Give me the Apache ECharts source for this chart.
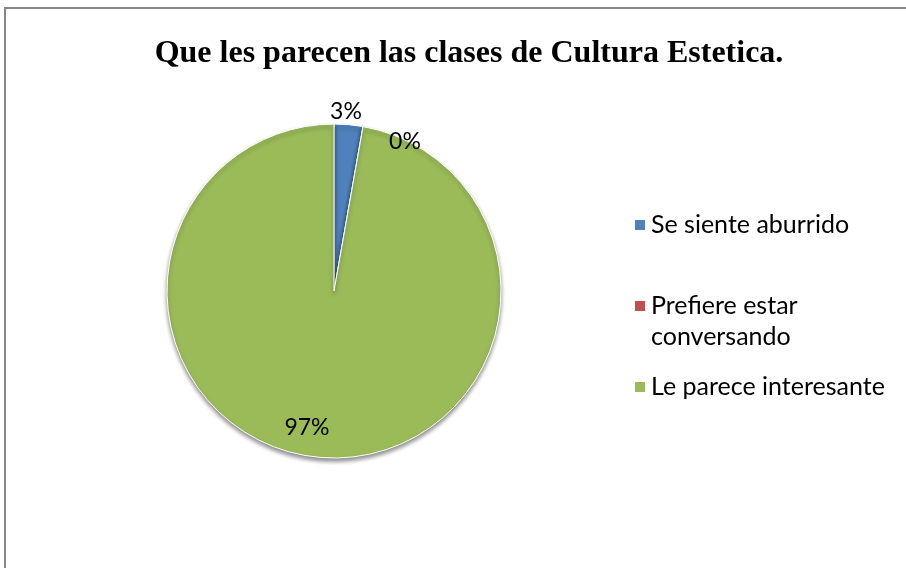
<!DOCTYPE html>
<html>
<head>
<meta charset="utf-8">
<script src="https://cdn.jsdelivr.net/npm/echarts@6/dist/echarts.min.js"></script>
<style>
html,body{margin:0;padding:0;background:#fff;}
#chart{width:906px;height:568px;}
</style>
</head>
<body>
<div id="chart"></div>
<script>
const titleText = 'Que les parecen las clases de Cultura Estetica.';
const categories = ['Se siente aburrido', 'Prefiere estar conversando', 'Le parece interesante'];
const values = [1, 0, 35];
const colors = ['#4F81BD', '#C0504D', '#9BBB59'];
const legendLabels = ['Se siente aburrido', '\nPrefiere estar\nconversando', 'Le parece interesante'];

const chart = echarts.init(document.getElementById('chart'));
const legendFont = {fontFamily: 'Lato', fontSize: 25, color: '#000', lineHeight: 31};
const legendTops = [209.5, 259.5, 371.5];
const legends = categories.map((c, i) => ({
  data: [c],
  left: 633,
  top: legendTops[i],
  padding: 0,
  orient: 'vertical',
  icon: 'rect',
  itemWidth: 12,
  itemHeight: 12,
  itemGap: 0,
  selectedMode: false,
  formatter: () => legendLabels[i],
  textStyle: legendFont
}));

chart.setOption({
  animation: false,
  color: colors,
  title: {
    text: titleText,
    left: 464,
    top: 33,
    textAlign: 'center',
    textStyle: {fontFamily: 'Liberation Serif', fontWeight: 'bold', fontSize: 32, color: '#000'}
  },
  legend: legends,
  graphic: [{
    type: 'polyline',
    shape: {points: [[5, 620], [5, 8], [960, 8]]},
    style: {fill: 'none', stroke: '#878787', lineWidth: 2},
    z: -10
  }],
  series: [{
    type: 'pie',
    center: [334, 291],
    radius: 167,
    startAngle: 90,
    clockwise: true,
    data: categories.map((c, i) => ({name: c, value: values[i]})),
    itemStyle: {
      borderColor: '#ffffff',
      borderWidth: 1,
      shadowBlur: 4,
      shadowOffsetY: 3,
      shadowColor: 'rgba(0,0,0,0.45)'
    },
    label: {
      show: true,
      position: 'outside',
      fontFamily: 'Lato',
      fontSize: 23,
      color: '#000',
      formatter: p => Math.round(p.percent) + '%'
    },
    labelLine: {show: false, length: 6, length2: 0},
    labelLayout: function (params) {
      const i = params.dataIndex;
      if (i === 2) {
        return {x: 307, y: 428, align: 'center', verticalAlign: 'middle'};
      }
      if (i === 0) {
        return {x: 346, y: 112, align: 'center', verticalAlign: 'middle'};
      }
      return {x: 405, y: 142, align: 'center', verticalAlign: 'middle'};
    },
    emphasis: {disabled: true}
  }]
});
</script>
</body>
</html>
